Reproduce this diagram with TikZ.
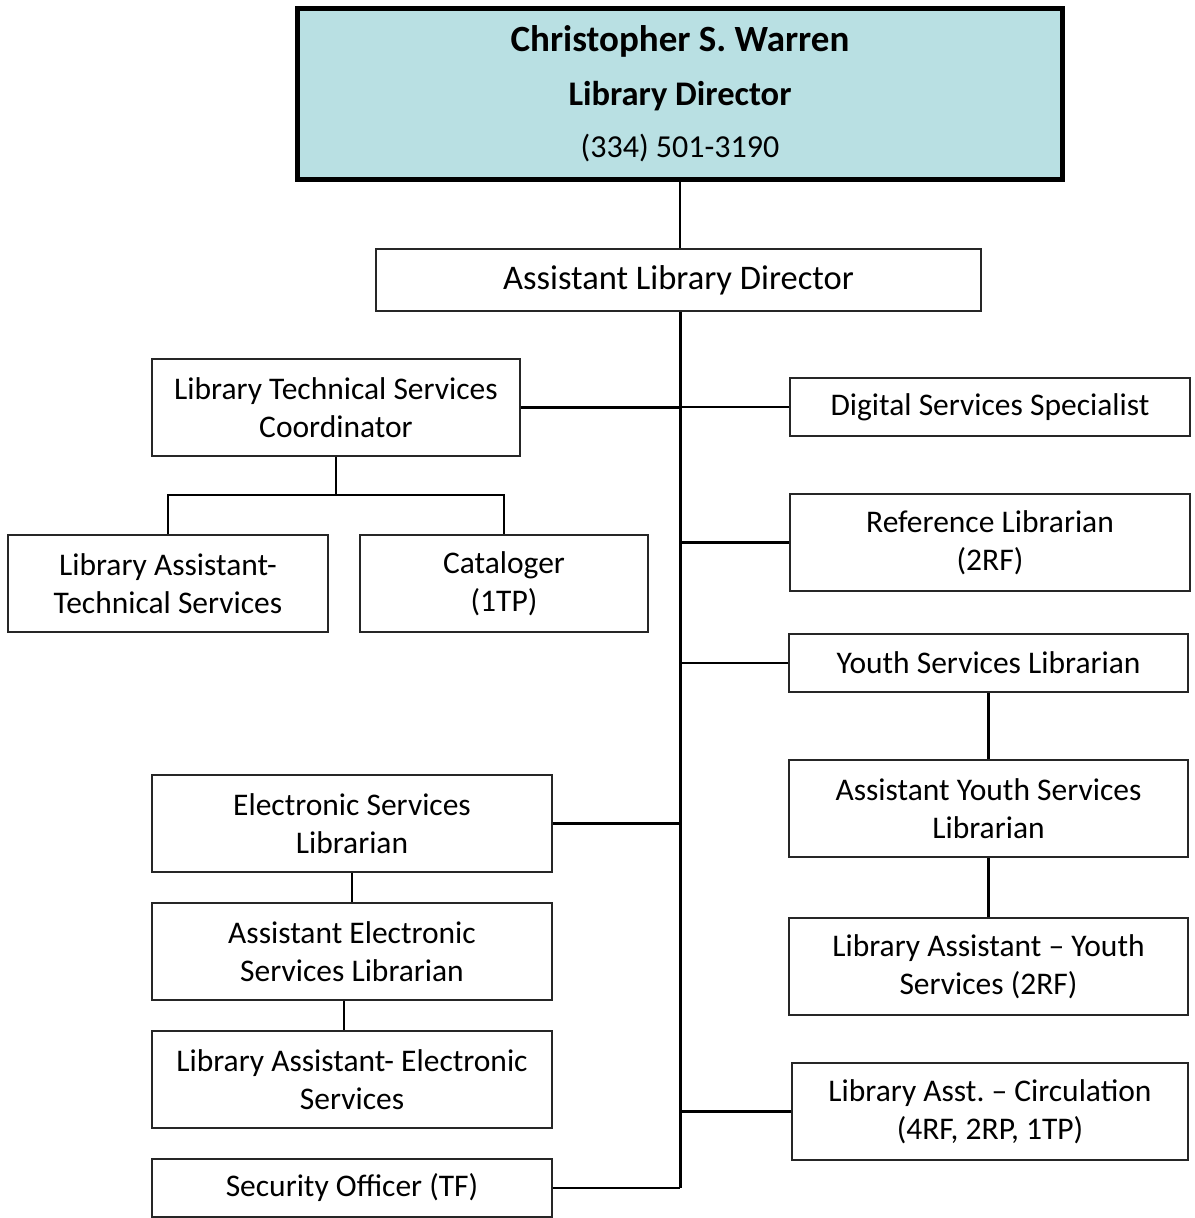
\documentclass[tikz,border=0pt]{standalone}
\usepackage{fontspec}
\setmainfont{Carlito}
\begin{document}
\begin{tikzpicture}[x=1pt,y=-1pt,
  box/.style={draw=black!85, line width=1.4pt, fill=white, inner sep=0pt, align=center,
    font=\fontsize{31.5}{38}\selectfont},
  conn/.style={draw=black, line width=2.2pt},
  trunk/.style={draw=black, line width=3pt}]
\useasboundingbox (0,0) rectangle (1194,1218);
\definecolor{topfill}{HTML}{B9E0E3}
\node[draw=black, line width=5pt, fill=topfill, minimum width=765pt, minimum height=171pt, inner sep=0pt] (top) at (680,94) {};
\node[font=\fontsize{37}{40}\selectfont\bfseries] (tname) at (680,41) {Christopher S. Warren};
\node[font=\fontsize{34.5}{40}\selectfont\bfseries] (ttitle) at (680,96) {Library Director};
\node[font=\fontsize{32}{40}\selectfont] (tphone) at (680,148) {(334) 501-3190};
\node[box, minimum width=605pt, minimum height=62pt, font=\fontsize{34.5}{40}\selectfont] (ald) at (678.5,280) {Assistant Library Director};
\node[box, minimum width=368pt, minimum height=97pt] (ltsc) at (336,407.5) {Library Technical Services\\Coordinator};
\node[box, minimum width=400pt, minimum height=58pt] (dss) at (990,407) {Digital Services Specialist};
\node[box, minimum width=320pt, minimum height=97pt] (lats) at (168,583.5) {Library Assistant-\\Technical Services};
\node[box, minimum width=288pt, minimum height=97pt] (cat) at (504,583.5) {Cataloger\\(1TP)};
\node[box, minimum width=400pt, minimum height=97pt] (ref) at (990,542.5) {Reference Librarian\\(2RF)};
\node[box, minimum width=399pt, minimum height=58pt] (ysl) at (988.5,663) {Youth Services Librarian};
\node[box, minimum width=399pt, minimum height=97pt] (aysl) at (988.5,808.5) {Assistant Youth Services\\Librarian};
\node[box, minimum width=399pt, minimum height=97pt] (lays) at (988.5,966.5) {Library Assistant -- Youth\\Services (2RF)};
\node[box, minimum width=400pt, minimum height=97pt] (esl) at (352,823.5) {Electronic Services\\Librarian};
\node[box, minimum width=400pt, minimum height=97pt] (aesl) at (352,951.5) {Assistant Electronic\\Services Librarian};
\node[box, minimum width=400pt, minimum height=97pt] (laes) at (352,1079.5) {Library Assistant- Electronic\\Services};
\node[box, minimum width=396pt, minimum height=97pt] (circ) at (990,1111.5) {Library Asst.\ -- Circulation\\(4RF, 2RP, 1TP)};
\node[box, minimum width=400pt, minimum height=58pt] (sec) at (352,1188) {Security Officer (TF)};
\coordinate (tb) at (sec.east -| top.south);
\coordinate (bar) at (336,495);
\draw[conn] (top.south) -- (top.south |- ald.north);
\draw[trunk] (top.south |- ald.south) -- (tb);
\draw[conn] (ltsc.east) -- (ltsc.east -| top.south);
\draw[conn] (dss.west) -- (dss.west -| top.south);
\draw[conn] (ref.west) -- (ref.west -| top.south);
\draw[conn] (ysl.west) -- (ysl.west -| top.south);
\draw[conn] (esl.east) -- (esl.east -| top.south);
\draw[conn] (circ.west) -- (circ.west -| top.south);
\draw[conn] (sec.east) -- (tb);
\draw[conn] (ltsc.south) -- (bar);
\draw[conn] (lats.north) -- (lats.north |- bar) -- (cat.north |- bar) -- (cat.north);
\draw[conn, line width=2.8pt] (ysl.south) -- (aysl.north);
\draw[conn, line width=2.8pt] (aysl.south) -- (lays.north);
\draw[conn, line width=2.8pt] (esl.south) -- (aesl.north);
\draw[conn, line width=2.8pt] ([xshift=-8pt]aesl.south) -- ([xshift=-8pt]laes.north);
\end{tikzpicture}
\end{document}
